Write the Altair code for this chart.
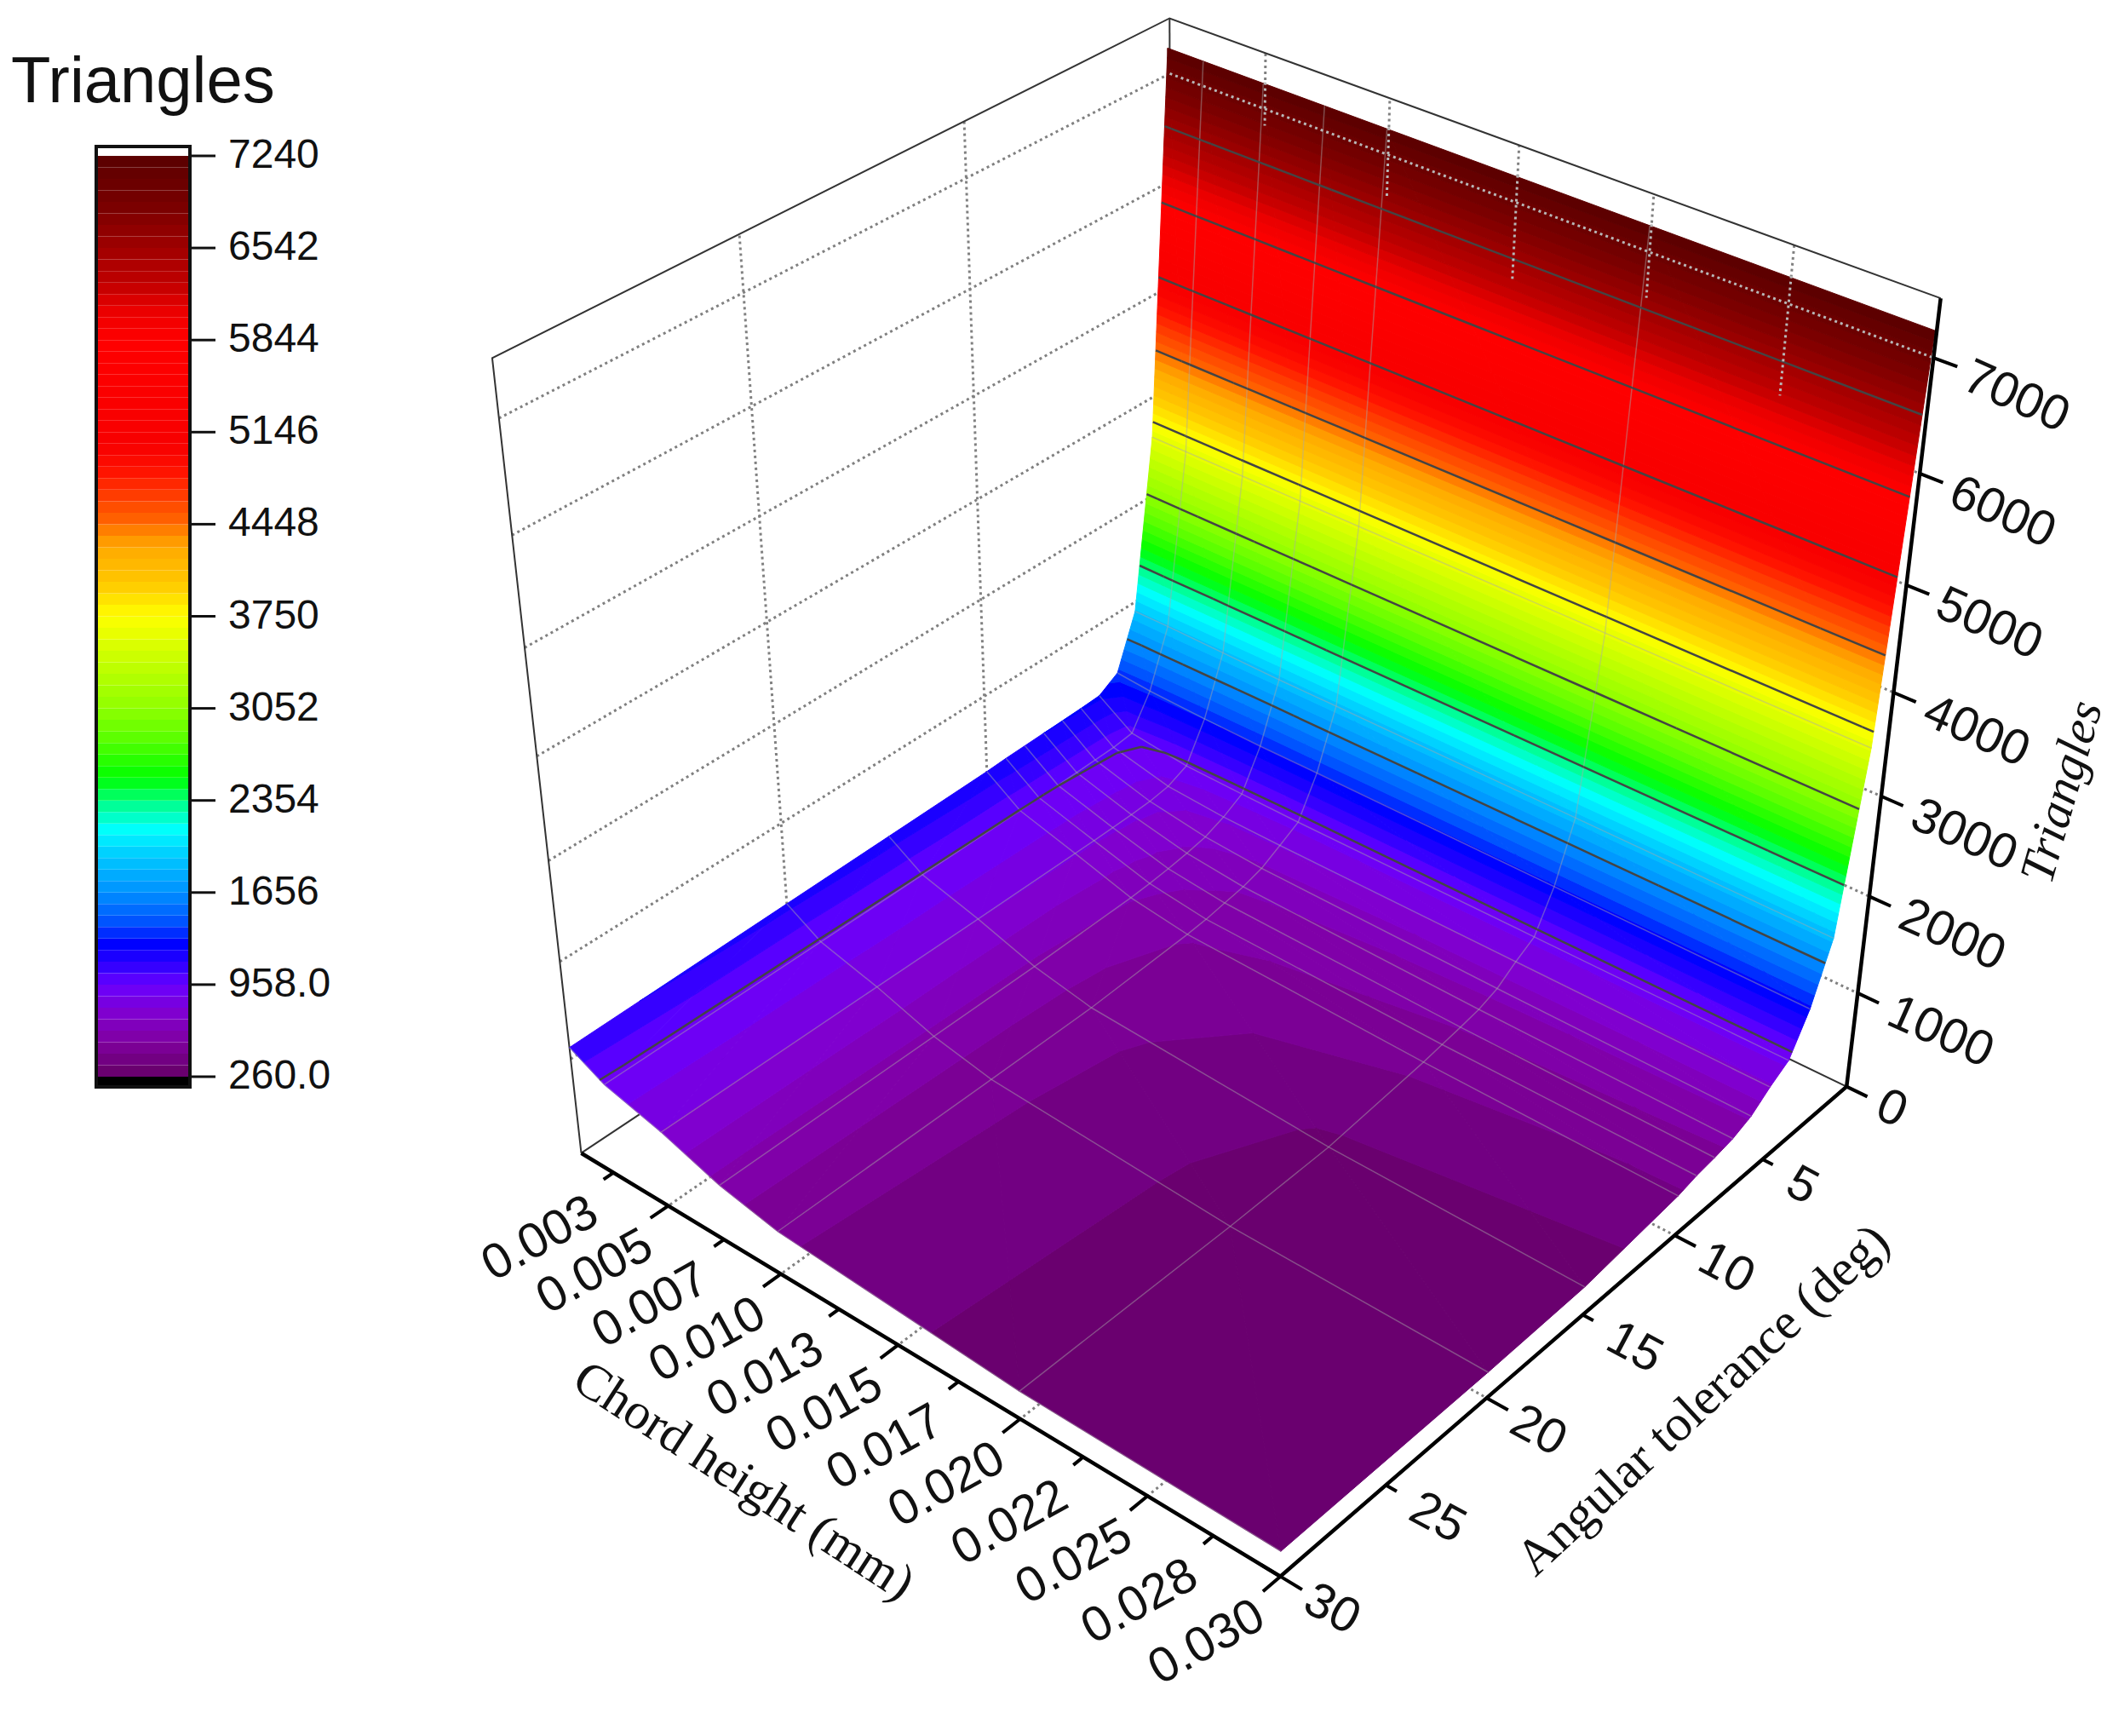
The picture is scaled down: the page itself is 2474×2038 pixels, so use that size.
import numpy as np
import pandas as pd
import altair as alt

# mesh of the surface
chord = [0.001, 0.0025, 0.005, 0.0075, 0.01, 0.02, 0.03]
angle = [0.1, 1, 2, 3, 4, 5, 6, 7, 8, 9, 10, 15, 20, 30]
row_a01 = [7240, 7240, 7240, 7240, 7240, 7240, 7240]
row_a1 = [3600, 3600, 3600, 3600, 3600, 3600, 3600]
row_a2 = [1900, 1900, 1890, 1880, 1880, 1870, 1860]
row_a3 = [1360, 1330, 1310, 1300, 1300, 1290, 1280]
row_a4 = [1240, 1000, 930, 915, 905, 900, 895]
row_a5 = [1230, 975, 840, 800, 790, 780, 770]
row_a6 = [1225, 970, 810, 720, 680, 640, 620]
row_a7 = [1220, 965, 800, 680, 620, 565, 540]
row_a8 = [1215, 960, 795, 650, 585, 525, 500]
row_a9 = [1210, 958, 790, 630, 550, 490, 470]
row_a10 = [1200, 955, 790, 615, 530, 455, 420]
row_a15 = [1180, 950, 785, 590, 470, 330, 295]
row_a20 = [1160, 945, 785, 585, 460, 300, 270]
row_a30 = [1120, 935, 780, 575, 450, 290, 260]
triangles = [row_a01, row_a1, row_a2, row_a3, row_a4, row_a5, row_a6, row_a7,
             row_a8, row_a9, row_a10, row_a15, row_a20, row_a30]

chord_ticks = [0.0025, 0.005, 0.0075, 0.01, 0.0125, 0.015, 0.0175, 0.02, 0.0225, 0.025, 0.0275, 0.03]
chord_labels = ["0.003", "0.005", "0.007", "0.010", "0.013", "0.015", "0.017", "0.020", "0.022", "0.025", "0.028", "0.030"]
angle_ticks = [5, 10, 15, 20, 25, 30]
z_ticks = [0, 1000, 2000, 3000, 4000, 5000, 6000, 7000]
bar_ticks = [260, 958, 1656, 2354, 3052, 3750, 4448, 5146, 5844, 6542, 7240]
bar_labels = ["260.0", "958.0", "1656", "2354", "3052", "3750", "4448", "5146", "5844", "6542", "7240"]

# colour ramp of the bar
ramp_z = [260, 525, 740, 958, 1106, 1260, 1420, 1656, 1920, 2130, 2310, 2527, 2843, 3052, 3370, 3750,
          4005, 4224, 4367, 4448, 4670, 4860, 5065, 5844, 6040, 6280, 6542, 6860, 7240]
ramp_hex = ["#660066", "#8000a0", "#8000d0", "#6a00ff", "#3000ff", "#0000ff", "#0050ff", "#0090ff", "#00c8ff",
            "#00ffff", "#00ff9a", "#00ff00", "#60ff00", "#90ff00", "#c0ff00", "#ffff00", "#ffc800", "#ffb000",
            "#ff9000", "#ff6a00", "#ff3c00", "#ff1000", "#f80000", "#ff0000", "#f00000", "#c00000", "#a00000",
            "#7a0000", "#5a0000"]
n_bands = 80
levels = np.linspace(260, 7240, n_bands + 1)
mids = (levels[:-1] + levels[1:]) / 2
ramp_rgb = np.array([[int(h[i:i + 2], 16) for i in (1, 3, 5)] for h in ramp_hex])
band_colors = ["#%02x%02x%02x" % tuple(int(np.interp(m, ramp_z, ramp_rgb[:, k])) for k in range(3)) for m in mids]
fill_scale = alt.Scale(type="quantize", domain=[260, 7240], range=band_colors)

# camera: fit a perspective matrix to the corners of the box (pixel positions in the picture)
corners = [((0, 0, 1), (1373, 14)), ((1, 0, 1), (2277, 355)), ((0, 1, 1), (580, 424)), ((0, 1, 0), (681, 1344)),
           ((1, 1, 0), (1503, 1858)), ((1, 0, 0), (2170, 1265)), ((0, 0, 0), (1376, 905))]
A, b = [], []
for (u, v, w), (px, py) in corners:
    A.append([u, v, w, 1, 0, 0, 0, 0, -px * u, -px * v, -px * w])
    A.append([0, 0, 0, 0, u, v, w, 1, -py * u, -py * v, -py * w])
    b += [px, py]
m = np.linalg.lstsq(np.array(A, float), np.array(b, float), rcond=None)[0]
P = np.append(m, 1).reshape(3, 4)


def project(c, a, z):
    q = P @ np.array([(c - 0.001) / 0.029, a / 30, z / 7500, 1])
    return q[0] / q[2], q[1] / q[2]


def path(rows, name, pts):
    for i, (c, a, z) in enumerate(pts):
        x, y = project(c, a, z)
        rows.append({"id": name, "i": i, "x": x, "y": y})


X = alt.X("x:Q", axis=None, scale=alt.Scale(domain=[8, 2466], range=[0, 2458], nice=False, zero=False))
Y = alt.Y("y:Q", axis=None, scale=alt.Scale(domain=[8, 2030], range=[0, 2022], nice=False, zero=False))


def lines(rows, **style):
    return alt.Chart(pd.DataFrame(rows)).mark_line(**style).encode(x=X, y=Y, detail="id:N", order="i:Q")


def labels(rows, **style):
    return alt.Chart(pd.DataFrame(rows)).mark_text(**style).encode(
        x=X, y=Y, text="label:N", angle=alt.Angle("rot:Q", scale=None))


# split the mesh into triangles and cut them into the colour bands
def clip(poly, level, keep_above):
    out = []
    for k in range(len(poly)):
        p, q = poly[k], poly[(k + 1) % len(poly)]
        pin = p[2] >= level if keep_above else p[2] <= level
        qin = q[2] >= level if keep_above else q[2] <= level
        if pin:
            out.append(p)
        if pin != qin:
            t = (level - p[2]) / (q[2] - p[2])
            out.append(tuple(p[n] + t * (q[n] - p[n]) for n in range(3)))
    return out


tris = []
for r in range(len(angle) - 1):
    for s in range(len(chord) - 1):
        p00 = (chord[s], angle[r], triangles[r][s])
        p01 = (chord[s + 1], angle[r], triangles[r][s + 1])
        p10 = (chord[s], angle[r + 1], triangles[r + 1][s])
        p11 = (chord[s + 1], angle[r + 1], triangles[r + 1][s + 1])
        tris.append([p00, p01, p11])
        tris.append([p00, p11, p10])

features = []
for tri in tris:
    zs = [p[2] for p in tri]
    for lo, hi, mid in zip(levels[:-1], levels[1:], mids):
        if hi < min(zs) or lo > max(zs):
            continue
        poly = clip(clip(tri, lo, True), hi, False) if len(tri) else []
        if len(poly) < 3:
            continue
        ring = [list(project(*p)) for p in poly]
        ring.append(ring[0])
        features.append({"type": "Feature", "geometry": {"type": "Polygon", "coordinates": [ring]},
                         "properties": {"z": float(mid)}})

surface = alt.Chart(alt.Data(values=features)).mark_geoshape(strokeWidth=1).project(
    type="identity", scale=1, translate=[-8, -8]).encode(
    fill=alt.Fill("properties.z:Q", scale=fill_scale, legend=None),
    stroke=alt.Stroke("properties.z:Q", scale=fill_scale, legend=None))

# contour lines at the bar's ticks
contour_rows = []
for level in bar_ticks[1:-1]:
    for n, tri in enumerate(tris):
        cut = []
        for k in range(3):
            p, q = tri[k], tri[(k + 1) % 3]
            d1, d2 = p[2] - level - 0.5, q[2] - level - 0.5
            if d1 * d2 < 0:
                t = d1 / (d1 - d2)
                cut.append((p[0] + t * (q[0] - p[0]), p[1] + t * (q[1] - p[1]), level))
        if len(cut) == 2:
            path(contour_rows, f"c{level}-{n}", cut)

mesh_rows = []
for r, a in enumerate(angle[1:], 1):
    path(mesh_rows, f"a{r}", [(c, a, triangles[r][s]) for s, c in enumerate(chord)])
for s, c in enumerate(chord[1:-1], 1):
    path(mesh_rows, f"s{s}", [(c, a, triangles[r][s]) for r, a in enumerate(angle)])

# grid on the walls and on the floor
grid_rows = []
for z in z_ticks[1:]:
    path(grid_rows, f"zl{z}", [(0.001, 30, z), (0.001, 0, z)])
    path(grid_rows, f"zb{z}", [(0.001, 0, z), (0.03, 0, z)])
for a in [10, 20]:
    path(grid_rows, f"al{a}", [(0.001, a, 0), (0.001, a, 7500)])
    path(grid_rows, f"af{a}", [(0.001, a, 0), (0.03, a, 0)])
for c in [0.005, 0.01, 0.015, 0.02, 0.025]:
    path(grid_rows, f"cb{c}", [(c, 0, 0), (c, 0, 7500)])
    path(grid_rows, f"cf{c}", [(c, 0, 0), (c, 30, 0)])

top_rows = []
path(top_rows, "z7000", [(0.001, 0, 7000), (0.03, 0, 7000)])
for c, stop in zip([0.005, 0.01, 0.015, 0.02, 0.025], [6850, 6600, 6300, 6600, 6200]):
    path(top_rows, f"t{c}", [(c, 0, 7240), (c, 0, stop)])

thin_rows = []
path(thin_rows, "f1", [(0.001, 30, 0), (0.001, 30, 7500), (0.001, 0, 7500), (0.03, 0, 7500)])
path(thin_rows, "f2", [(0.001, 30, 0), (0.001, 0, 0), (0.03, 0, 0)])
path(thin_rows, "f3", [(0.001, 0, 7500), (0.001, 0, 0)])

thick_rows = []
path(thick_rows, "axis", [(0.001, 30, 0), (0.03, 30, 0), (0.03, 0, 0), (0.03, 0, 7500)])

tick_rows = []
for n, c in enumerate(chord_ticks):
    major = n % 2 == 1
    path(tick_rows, f"tc{n}", [(c, 30, 0), (c, 30.8 if major else 30.45, 0)])
for a in angle_ticks:
    path(tick_rows, f"ta{a}", [(0.03, a, 0), (0.0308 if a % 10 == 0 else 0.0304, a, 0)])
path(tick_rows, "tc30", [(0.0293, 30, 0), (0.03, 30, 0)])
for z in z_ticks:
    path(tick_rows, f"tz{z}", [(0.03, 0, z), (0.0308, 0, z)])

chord_text, angle_text, z_text = [], [], []
for c, lab in zip(chord_ticks, chord_labels):
    x, y = project(c, 30, 0)
    chord_text.append({"x": x - 86, "y": y + 78, "label": lab, "rot": 331})
for a in angle_ticks:
    x, y = project(0.03, a, 0)
    angle_text.append({"x": x + 32, "y": y + 24, "label": str(a), "rot": 28})
for z in z_ticks:
    x, y = project(0.03, 0, z)
    z_text.append({"x": x + 38, "y": y + 20, "label": str(z), "rot": 24})

title_text = [{"x": 873, "y": 1739, "label": "Chord height (mm)", "rot": 33},
              {"x": 2000, "y": 1644, "label": "Angular tolerance (deg)", "rot": 317}]
z_title = [{"x": 2422, "y": 930, "label": "Triangles", "rot": 286}]

# colour bar
bar_y = alt.Scale(domain=[260, 7240], range=[1256, 175], nice=False, zero=False)
bar_x = alt.Scale(domain=[8, 2466], range=[0, 2458], nice=False, zero=False)
bands = pd.DataFrame({"lo": levels[:-1], "hi": levels[1:], "mid": mids, "x1": 113, "x2": 223})
bar = alt.Chart(bands).mark_rect().encode(
    x=alt.X("x1:Q", axis=None, scale=bar_x), x2="x2:Q",
    y=alt.Y("lo:Q", axis=None, scale=bar_y), y2="hi:Q",
    fill=alt.Fill("mid:Q", scale=fill_scale, legend=None))
ends = pd.DataFrame({"lo": [182, 7240], "hi": [260, 7311], "x1": 113, "x2": 223, "c": ["#000000", "#ffffff"]})
bar_ends = alt.Chart(ends).mark_rect().encode(
    x=alt.X("x1:Q", axis=None, scale=bar_x), x2="x2:Q",
    y=alt.Y("lo:Q", axis=None, scale=bar_y), y2="hi:Q",
    fill=alt.Fill("c:N", scale=None))
frame = pd.DataFrame({"lo": [182], "hi": [7311], "x1": [113], "x2": [223]})
bar_frame = alt.Chart(frame).mark_rect(fillOpacity=0, stroke="#111111", strokeWidth=4).encode(
    x=alt.X("x1:Q", axis=None, scale=bar_x), x2="x2:Q",
    y=alt.Y("lo:Q", axis=None, scale=bar_y), y2="hi:Q")
bar_df = pd.DataFrame({"z": bar_ticks, "label": bar_labels, "x1": 223, "x2": 253, "xt": 268})
bar_tick = alt.Chart(bar_df).mark_rule(color="#111111", strokeWidth=3).encode(
    x=alt.X("x1:Q", axis=None, scale=bar_x), x2="x2:Q",
    y=alt.Y("z:Q", axis=None, scale=bar_y))
bar_text = alt.Chart(bar_df).mark_text(font="Liberation Sans", fontSize=48, align="left", baseline="middle",
                                       color="#111111").encode(
    x=alt.X("xt:Q", axis=None, scale=bar_x), y=alt.Y("z:Q", axis=None, scale=bar_y), text="label:N")
bar_title = labels([{"x": 13, "y": 120, "label": "Triangles", "rot": 0}], font="Liberation Sans", fontSize=76,
                   align="left", baseline="alphabetic", color="#111111")

chart = alt.layer(
    lines(grid_rows, color="#808080", strokeWidth=3, strokeDash=[3, 4]),
    lines(thin_rows, color="#333333", strokeWidth=2),
    surface,
    lines(mesh_rows, color="#a8a8a8", strokeWidth=1.5, opacity=0.45),
    lines(contour_rows, color="#444444", strokeWidth=2.5),
    lines(top_rows, color="#b8b8b8", strokeWidth=3, strokeDash=[3, 4]),
    lines(thick_rows, color="#000000", strokeWidth=4.5),
    lines(tick_rows, color="#000000", strokeWidth=4),
    labels(chord_text, font="Liberation Sans", fontSize=58, align="center", baseline="middle", color="#111111"),
    labels(angle_text, font="Liberation Sans", fontSize=58, align="left", baseline="middle", color="#111111"),
    labels(z_text, font="Liberation Sans", fontSize=58, align="left", baseline="middle", color="#111111"),
    labels(title_text, font="Liberation Serif", fontSize=60, align="center", baseline="middle", color="#111111"),
    labels(z_title, font="Liberation Serif", fontSize=58, fontStyle="italic", align="center", baseline="middle",
           color="#111111"),
    bar, bar_ends, bar_frame, bar_tick, bar_text, bar_title,
).resolve_scale(y="independent").properties(
    width=2458, height=2022, padding=0, autosize="none", background="white"
).configure_view(stroke=None)

chart.save("out.html", embed_options={"renderer": "svg", "actions": False})
